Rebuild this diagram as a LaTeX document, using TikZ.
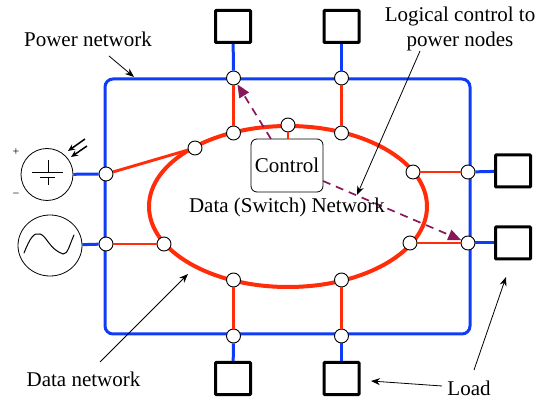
\documentclass[tikz,border=0pt]{standalone}
\usepackage{fontspec}
\setmainfont{Liberation Serif}
\usetikzlibrary{arrows.meta,shapes.geometric}
\definecolor{pblue}{RGB}{15,60,245}
\definecolor{dred}{RGB}{255,45,10}
\definecolor{ctl}{RGB}{135,25,90}
\tikzset{
  jn/.style={circle,draw=black,fill=white,line width=0.9pt,minimum size=14pt,inner sep=0pt},
  load/.style={draw=black,line width=3pt,fill=white,minimum width=35pt,minimum height=32pt,inner sep=0pt,rounded corners=0.8pt},
  pw/.style={draw=pblue,line width=3pt},
  dt/.style={draw=dred,line width=2.9pt},
  ctlarrow/.style={draw=ctl,line width=1.7pt,dash pattern=on 8pt off 6pt,-{Triangle[length=13pt,width=11pt,fill=ctl]}},
  callout/.style={draw=black,line width=0.8pt,-{Stealth[length=9pt,width=7pt]}},
  lbl/.style={font=\fontsize{21}{25.5}\selectfont,inner sep=0pt,align=center},
  src/.style={draw=black,line width=0.8pt,fill=white,inner sep=0pt},
  sun/.style={line width=1.5pt,-{Stealth[length=7pt,width=6pt]}}
}
\begin{document}
\begin{tikzpicture}[x=1pt,y=-1pt]
\useasboundingbox (0,0) rectangle (549,403);
% power ring
\draw[pw,rounded corners=8pt] (105,79) rectangle (470,334);
% data ring
\draw[dt,line width=4pt] (288,206.5) ellipse [x radius=139,y radius=80.5];
% junctions
\node[jn] (pt1) at (233.5,78) {};
\node[jn] (pt2) at (341.5,78) {};
\node[jn] (pb1) at (233.5,336) {};
\node[jn] (pb2) at (341.5,336) {};
\node[jn] (pl1) at (106,174) {};
\node[jn] (pl2) at (106,244) {};
\node[jn] (pr1) at (468,172) {};
\node[jn] (pr2) at (468,243) {};
\node[jn] (dt1) at (233.5,133) {};
\node[jn] (dt2) at (341.5,133) {};
\node[jn] (dt3) at (288,125) {};
\node[jn] (dl1) at (195,148) {};
\node[jn] (dl2) at (164,244) {};
\node[jn] (db1) at (233.5,280) {};
\node[jn] (db2) at (341.5,280) {};
\node[jn] (dr1) at (413,172) {};
\node[jn] (dr2) at (410,243) {};
% loads
\node[load] (lt1) at (233,26.5) {};
\node[load] (lt2) at (341.5,26.5) {};
\node[load] (lr1) at (513,171) {};
\node[load] (lr2) at (513,243) {};
\node[load] (lb1) at (233,378.5) {};
\node[load] (lb2) at (341.5,378.5) {};
% sources
\node[src,circle,minimum size=52pt] (s1) at (47,174.5) {};
\node[src,ellipse,minimum width=64pt,minimum height=61pt] (s2) at (50,245.5) {};
% control
\node[draw=black,line width=0.8pt,fill=white,rounded corners=6pt,minimum width=72pt,minimum height=53pt,inner sep=0pt,lbl] (ctlbox) at (287,165.5) {Control};
\coordinate (ctop) at (271,139);
\coordinate (cright) at (323,181);
% connectors
\draw[pw] (lt1) -- (pt1);
\draw[pw] (lt2) -- (pt2);
\draw[pw] (lb1) -- (pb1);
\draw[pw] (lb2) -- (pb2);
\draw[pw] (lr1) -- (pr1);
\draw[pw] (lr2) -- (pr2);
\draw[pw] (s1) -- (pl1);
\draw[pw] (s2) -- (pl2);
\draw[dt] (pt1) -- (dt1);
\draw[dt] (pt2) -- (dt2);
\draw[dt] (pb1) -- (db1);
\draw[dt] (pb2) -- (db2);
\draw[dt] (pl1) -- (dl1);
\draw[dt] (pl2) -- (dl2);
\draw[dt] (pr1) -- (dr1);
\draw[dt] (pr2) -- (dr2);
\draw[dt,line width=2pt] (dt3) -- (ctlbox.north -| dt3);
% source symbols
\draw[line width=0.8pt] (32,172) -- (63,172) (48,160) -- (48,172) (40,177) -- (55,177) (48,177) -- (48,185);
\draw[line width=1pt,line cap=round] (24,253) .. controls (30,238) and (34,232) .. (40,234) .. controls (47,236) and (49,249) .. (63,254) .. controls (68,254) and (69,246) .. (74,235);
\draw[sun] (85,139) -- (68,151);
\draw[sun] (87,146) -- (71,157);
\node[font=\fontsize{12}{14}\selectfont,inner sep=0pt] (plus) at (16,152) {+};
\node[font=\fontsize{12}{14}\selectfont,inner sep=0pt] (minus) at (16,195) {−};
% control arrows
\draw[ctlarrow] (ctop) -- (pt1);
\draw[ctlarrow] (cright) -- (pr2);
% labels
\node[lbl] (pn) at (88,39) {Power network};
\node[lbl] (lc) at (460,29) {Logical control to\\power nodes};
\node[lbl] (ds) at (287,207) {Data (Switch) Network};
\node[lbl] (dn) at (83.5,379) {Data network};
\node[lbl] (ld) at (469,388) {Load};
\coordinate (pntail) at (109,56);
\coordinate (pnend) at (134,77);
\coordinate (lctail) at (420,51);
\coordinate (lcend) at (357,195);
\coordinate (dntail) at (100,362);
\coordinate (dnend) at (188,274);
\coordinate (ldtail) at (474,370);
\coordinate (ldend) at (506,277);
\coordinate (lbtip) at (371,381);
\coordinate (lbtail) at (442,386);
\draw[callout] (pntail) -- (pnend);
\draw[callout] (lctail) -- (lcend);
\draw[callout] (dntail) -- (dnend);
\draw[callout] (lbtail) -- (lbtip);
\draw[callout] (ldtail) -- (ldend);
\end{tikzpicture}
\end{document}
